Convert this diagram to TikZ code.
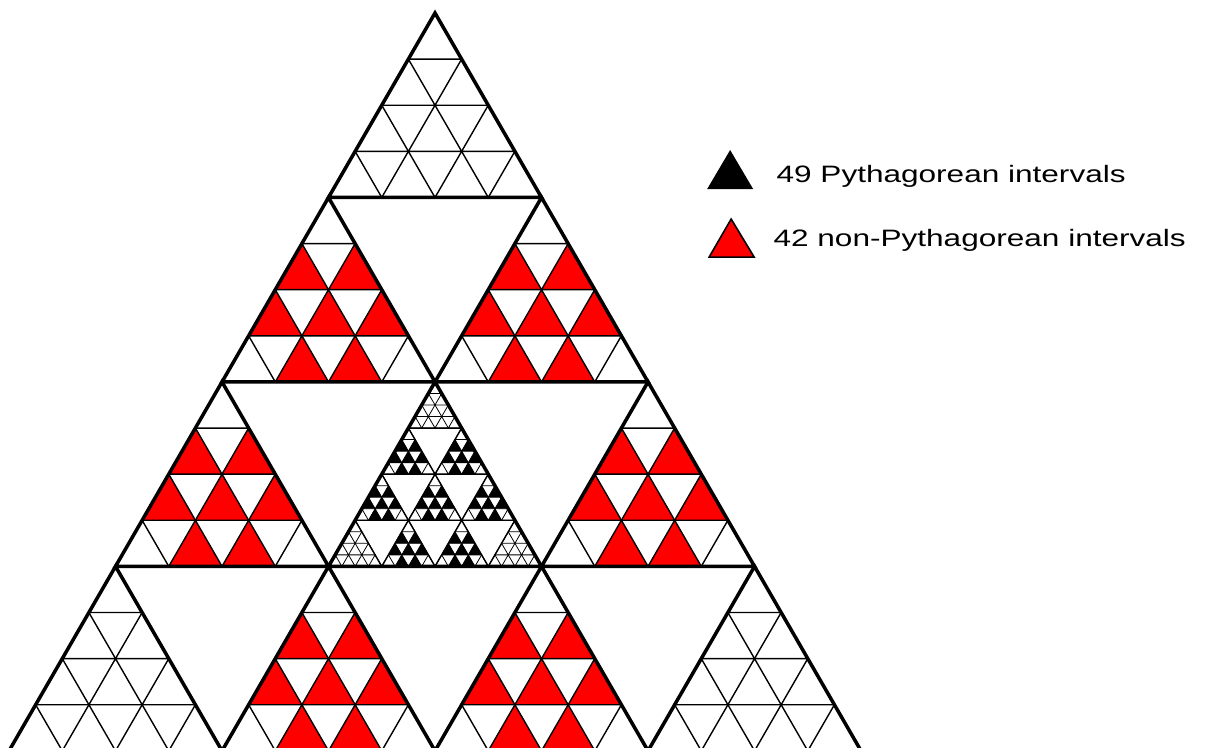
\documentclass[tikz,border=0pt]{standalone}
\usepackage{fontspec}
\setmainfont{Liberation Sans}
\tikzset{
 bigline/.style={draw=black, line width=2pt, line join=miter},
 midline/.style={draw=black, line width=0.8pt},
 tinyline/.style={draw=black, line width=0.45pt},
 redfill/.style={fill=red},
 blackfill/.style={fill=black},
 legendtext/.style={anchor=base west, inner sep=0pt, xscale=1.33, font=\fontsize{13.5}{16}\selectfont},
}
\newcommand\uptri[4]{\path[#1] (#2,#3) -- ++(0,#4) -- ++(#4,0) -- cycle;}
\def\alllist{0/0,1/0,1/1,2/0,2/1,2/2,3/0,3/1,3/2,3/3}
\def\filledlist{1/0,1/1,2/0,2/1,2/2,3/1,3/2}
\def\cornerlist{0/0,3/0,3/3}
\begin{document}
\begin{tikzpicture}
\useasboundingbox (0,0) rectangle (24.1,-14.94);
\clip (0,0) rectangle (24.1,-14.94);
\begin{scope}[shift={(8.70,-0.26)}, x={(0.26625cm,0cm)}, y={(-0.133125cm,-0.23057cm)}]
  % white corner sub-triangles
  \foreach \ra/\ka in \cornerlist {
    \foreach \rb/\kb in \alllist {
      \uptri{midline}{16*\ka+4*\kb}{16*\ra+4*\rb}{4}
    }
  }
  % red sub-triangles
  \foreach \ra/\ka in {1/0,1/1,2/0,2/2,3/1,3/2} {
    \foreach \rb/\kb in \filledlist {
      \uptri{redfill,midline}{16*\ka+4*\kb}{16*\ra+4*\rb}{4}
    }
    \foreach \rb/\kb in \cornerlist {
      \uptri{midline}{16*\ka+4*\kb}{16*\ra+4*\rb}{4}
    }
  }
  % centre sub-triangle
  \foreach \rb/\kb in \cornerlist {
    \foreach \rc/\kc in \alllist {
      \uptri{tinyline}{16+4*\kb+\kc}{32+4*\rb+\rc}{1}
    }
    \uptri{midline}{16+4*\kb}{32+4*\rb}{4}
  }
  \foreach \rb/\kb in \filledlist {
    \foreach \rc/\kc in \filledlist {
      \uptri{blackfill,tinyline}{16+4*\kb+\kc}{32+4*\rb+\rc}{1}
    }
    \foreach \rc/\kc in \cornerlist {
      \uptri{tinyline}{16+4*\kb+\kc}{32+4*\rb+\rc}{1}
    }
    \uptri{midline}{16+4*\kb}{32+4*\rb}{4}
  }
  % thick outlines
  \foreach \ra/\ka in \alllist {
    \uptri{bigline}{16*\ka}{16*\ra}{16}
  }
\end{scope}
\begin{scope}[x=0.02cm, y=-0.02cm]
  \fill[black] (707,189) -- (753,189) -- (730,150) -- cycle;
  \filldraw[fill=red, draw=black, line width=0.9pt] (709,257) -- (754,257) -- (731,219) -- cycle;
  \node[legendtext] (pyth) at (776,182) {49 Pythagorean intervals};
  \node[legendtext] (nonpyth) at (773,246) {42 non-Pythagorean intervals};
\end{scope}
\end{tikzpicture}
\end{document}
